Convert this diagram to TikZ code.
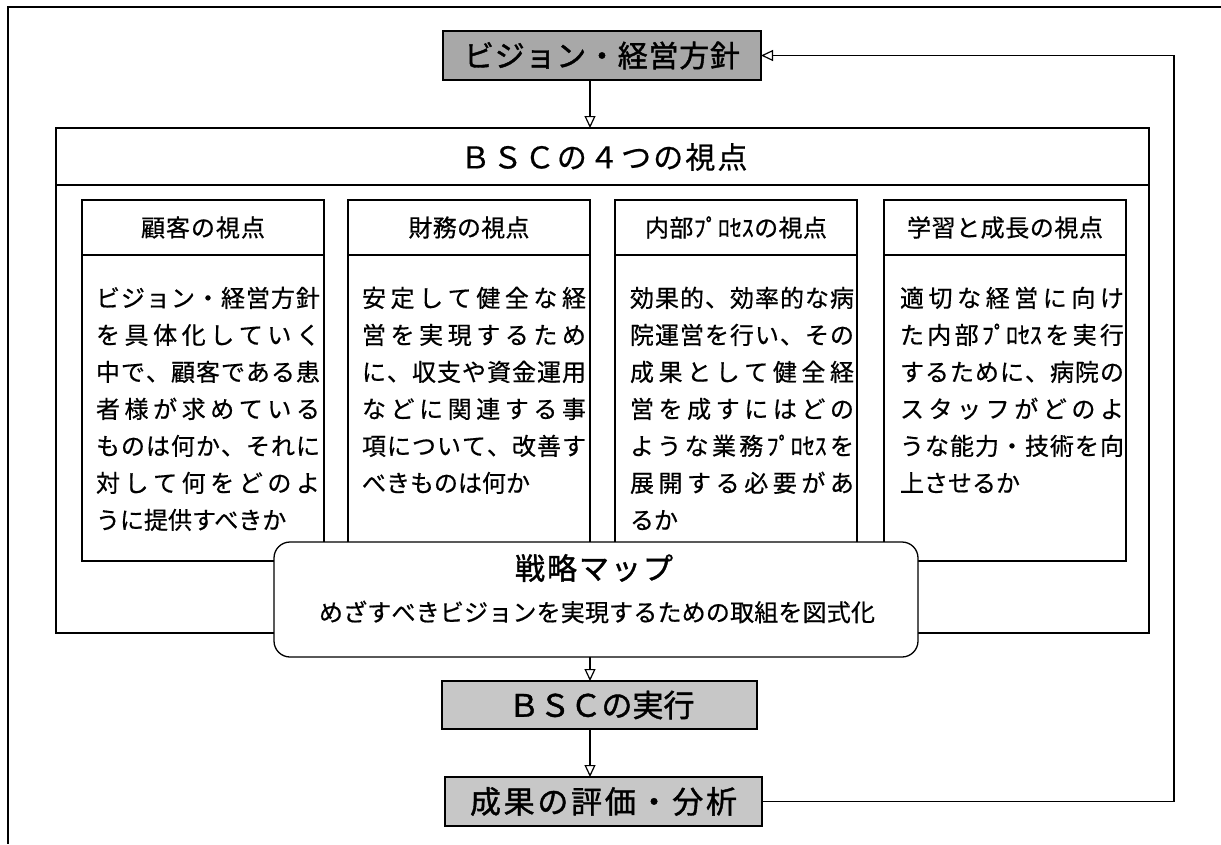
\documentclass[tikz,border=0pt]{standalone}
\usepackage{fontspec}
\newfontfamily\jp{Noto Sans CJK JP}
\newfontfamily\jpm[FakeBold=0.6]{Noto Sans CJK JP}
\newfontfamily\jpb[FakeBold=1.3]{Noto Sans CJK JP}
\usetikzlibrary{arrows.meta}
\definecolor{gtop}{gray}{0.66}
\definecolor{gbot}{gray}{0.78}
\def\jlfirst#1{#1\jlrest}
\def\jlrest#1{\ifx\relax#1\else\hfil#1\expandafter\jlrest\fi}
\newcommand\spreadto[2]{\hbox to #1{\jlfirst#2\relax}}
\newcommand\jl[1]{\spreadto{224pt}{#1}}
\newcommand\fs[1]{\fontsize{#1pt}{#1pt}\selectfont}
\begin{document}
\begin{tikzpicture}[x=1pt,y=-1pt,
  line width=1.3pt,
  every node/.style={inner sep=0pt, outer sep=0pt, font=\jp},
  graybox/.style={draw, line width=1.5pt},
  plainbox/.style={draw, line width=1.3pt},
  arr/.style={-{Triangle[open,length=12pt,width=11pt]}, line width=1.2pt},
]
\useasboundingbox (0,0) rectangle (1221,844);
% frame
\coordinate (f1) at (1221,7);
\coordinate (f2) at (8,7);
\coordinate (f3) at (8,844);
\draw (f1) -- (f2) -- (f3);

% top box
\node[graybox, fill=gtop, minimum width=318pt, minimum height=49pt] (vision) at (602,55.5)
  {\jpb\fs{30}\spreadto{276pt}{ビジョン・経営方針}};

% BSC big box
\node[plainbox, anchor=north west, minimum width=1093pt, minimum height=505pt] (bsc) at (56,128) {};
\coordinate (dv) at (0,185);
\draw (bsc.west |- dv) -- (bsc.east |- dv);
\node (bsctitle) at (604,157) {\jpm\fs{30}\spreadto{287pt}{ＢＳＣの４つの視点}};

% columns
\tikzset{hdr/.style={plainbox, anchor=north west, minimum width=242pt, minimum height=55pt},
         bdy/.style={plainbox, anchor=north west, minimum width=242pt, minimum height=306pt},
         btxt/.style={anchor=base west}}
\node[bdy] (b1) at (82,255) {};
\node[hdr] (h1) at (82,200) {\jpm\fs{24}\spreadto{124pt}{顧客の視点}};
\node[bdy] (b2) at (348,255) {};
\node[hdr] (h2) at (348,200) {\jpm\fs{24}\spreadto{121pt}{財務の視点}};
\node[bdy] (b3) at (615,255) {};
\node[hdr] (h3) at (615,200) {\jpm\fs{24}\spreadto{182pt}{内部{ﾌﾟﾛｾｽ}の視点}};
\node[bdy] (b4) at (884,255) {};
\node[hdr] (h4) at (884,200) {\jpm\fs{24}\spreadto{196pt}{学習と成長の視点}};

\tikzset{bfont/.style={font=\jpm\fs{24}}}
\node[btxt, bfont] (t1) at (96,307) {\vtop{\baselineskip=37pt
  \jl{ビジョン・経営方針}
  \jl{を具体化していく}
  \jl{中で、顧客である患}
  \jl{者様が求めている}
  \jl{ものは何か、それに}
  \jl{対して何をどのよ}
  \hbox{うに提供すべきか}}};
\node[btxt, bfont] (t2) at (362,307) {\vtop{\baselineskip=37pt
  \jl{安定して健全な経}
  \jl{営を実現するため}
  \jl{に、収支や資金運用}
  \jl{などに関連する事}
  \jl{項について、改善す}
  \hbox{べきものは何か}}};
\node[btxt, bfont] (t3) at (630,307) {\vtop{\baselineskip=37pt
  \jl{効果的、効率的な病}
  \jl{院運営を行い、その}
  \jl{成果として健全経}
  \jl{営を成すにはどの}
  \jl{ような業務{ﾌﾟﾛｾｽ}を}
  \jl{展開する必要があ}
  \hbox{るか}}};
\node[btxt, bfont] (t4) at (900,307) {\vtop{\baselineskip=37pt
  \jl{適切な経営に向け}
  \jl{た内部{ﾌﾟﾛｾｽ}を実行}
  \jl{するために、病院の}
  \jl{スタッフがどのよ}
  \jl{うな能力・技術を向}
  \hbox{上させるか}}};

% strategy map
\node[plainbox, fill=white, rounded corners=16pt, minimum width=644pt, minimum height=115pt] (map) at (596,599.5) {};
\node (maptitle) at (594,568) {\jpb\fs{30}\spreadto{158pt}{戦略マップ}};
\node (mapsub) at (597,612) {\jpm\fs{24}\spreadto{556pt}{めざすべきビジョンを実現するための取組を図式化}};

% execution and evaluation
\node[graybox, fill=gbot, minimum width=315pt, minimum height=48pt] (exec) at (599.5,705)
  {\jpb\fs{31}\spreadto{182pt}{ＢＳＣの実行}};
\node[graybox, fill=gbot, minimum width=317pt, minimum height=49pt] (eval) at (603.5,801.5)
  {\jpb\fs{31}\spreadto{267pt}{成果の評価・分析}};

% connectors
\coordinate (ax) at (590,0);
\coordinate (fb) at (1174,0);
\draw[arr] (vision.south -| ax) -- (bsc.north -| ax);
\draw[arr] (map.south -| ax) -- (exec.north -| ax);
\draw[arr] (exec.south -| ax) -- (eval.north -| ax);
\draw[arr] (eval.east) -- (eval.east -| fb) -- (fb |- vision.east) -- (vision.east);
\end{tikzpicture}
\end{document}
